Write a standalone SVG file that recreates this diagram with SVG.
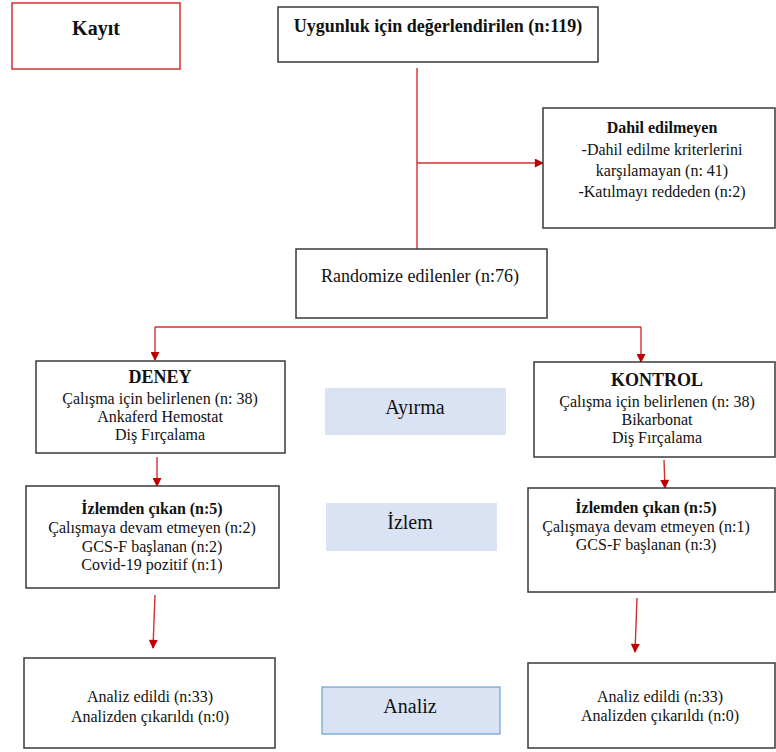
<svg xmlns="http://www.w3.org/2000/svg" width="776" height="752" viewBox="0 0 776 752">
<style>
.box{fill:#fff;stroke:#3a3a3a;stroke-width:1.5}
.lbl{fill:#dae3f3;stroke:none}
.b{font-weight:bold}
.c{stroke:#d32f2f;stroke-width:1.4;fill:none}
</style>
<defs>
<marker id="ah" viewBox="0 0 10 10" refX="9" refY="5" markerWidth="10" markerHeight="9" markerUnits="userSpaceOnUse" orient="auto">
<path d="M0,0 L10,5 L0,10 z" fill="#c00000"/>
</marker>
</defs>
<rect width="776" height="752" fill="#fff"/>
<g id="connectors">
<path class="c" d="M417,68 V256"/>
<path class="c" d="M417,163 H543" marker-end="url(#ah)"/>
<path class="c" d="M155,327 H641"/>
<path class="c" d="M155,327 V360" marker-end="url(#ah)"/>
<path class="c" d="M641,327 V362" marker-end="url(#ah)"/>
<path class="c" d="M157,457 V486" marker-end="url(#ah)"/>
<path class="c" d="M664,460 L665,488" marker-end="url(#ah)"/>
<path class="c" d="M155,595 L153,648" marker-end="url(#ah)"/>
<path class="c" d="M637,598 L635,652" marker-end="url(#ah)"/>
</g>
<g font-family="Liberation Serif, Times New Roman, serif" font-size="16" fill="#111" text-anchor="middle">
<g id="kayit">
<rect x="12" y="3" width="168" height="66" fill="#fff" stroke="#d32f2f" stroke-width="1.5"/>
<text class="b" x="96" y="35" font-size="20">Kayıt</text>
</g>
<g id="uygunluk">
<rect class="box" x="278" y="7" width="320" height="55"/>
<text class="b" x="438" y="32" font-size="18">Uygunluk için değerlendirilen (n:119)</text>
</g>
<g id="dahil">
<rect class="box" x="543" y="108" width="232" height="120"/>
<text class="b" x="662" y="133">Dahil edilmeyen</text>
<text x="662" y="155">-Dahil edilme kriterlerini</text>
<text x="662" y="176">karşılamayan (n: 41)</text>
<text x="662" y="197">-Katılmayı reddeden (n:2)</text>
</g>
<g id="randomize">
<rect class="box" x="296" y="249" width="251" height="69"/>
<text x="420" y="282" font-size="18">Randomize edilenler (n:76)</text>
</g>
<g id="deney">
<rect class="box" x="36" y="361" width="249" height="92"/>
<text class="b" x="160" y="383" font-size="18">DENEY</text>
<text x="160" y="404">Çalışma için belirlenen (n: 38)</text>
<text x="160" y="422">Ankaferd Hemostat</text>
<text x="160" y="440">Diş Fırçalama</text>
</g>
<g id="kontrol">
<rect class="box" x="534" y="362" width="241" height="95"/>
<text class="b" x="657" y="386" font-size="18">KONTROL</text>
<text x="657" y="407">Çalışma için belirlenen (n: 38)</text>
<text x="657" y="425">Bikarbonat</text>
<text x="657" y="443">Diş Fırçalama</text>
</g>
<g id="ayirma">
<rect class="lbl" x="325" y="388" width="181" height="47"/>
<text x="415" y="414" font-size="20">Ayırma</text>
</g>
<g id="izlem-deney">
<rect class="box" x="26" y="486" width="253" height="102"/>
<text class="b" x="152" y="514">İzlemden çıkan (n:5)</text>
<text x="152" y="533">Çalışmaya devam etmeyen (n:2)</text>
<text x="152" y="552">GCS-F başlanan (n:2)</text>
<text x="152" y="570">Covid-19 pozitif (n:1)</text>
</g>
<g id="izlem">
<rect class="lbl" x="326" y="503" width="171" height="48"/>
<text x="410" y="529" font-size="20">İzlem</text>
</g>
<g id="izlem-kontrol">
<rect class="box" x="528" y="488" width="247" height="104"/>
<text class="b" x="646" y="513">İzlemden çıkan (n:5)</text>
<text x="646" y="532">Çalışmaya devam etmeyen (n:1)</text>
<text x="646" y="550">GCS-F başlanan (n:3)</text>
</g>
<g id="analiz-deney">
<rect class="box" x="24" y="658" width="251" height="90"/>
<text x="150" y="702">Analiz edildi (n:33)</text>
<text x="150" y="722">Analizden çıkarıldı (n:0)</text>
</g>
<g id="analiz">
<rect x="322" y="687" width="178" height="47" fill="#dae3f3" stroke="#6a9fd8" stroke-width="1.2"/>
<text x="410" y="713" font-size="20">Analiz</text>
</g>
<g id="analiz-kontrol">
<rect class="box" x="528" y="663" width="247" height="85"/>
<text x="660" y="702">Analiz edildi (n:33)</text>
<text x="660" y="721">Analizden çıkarıldı (n:0)</text>
</g>
</g>
</svg>
